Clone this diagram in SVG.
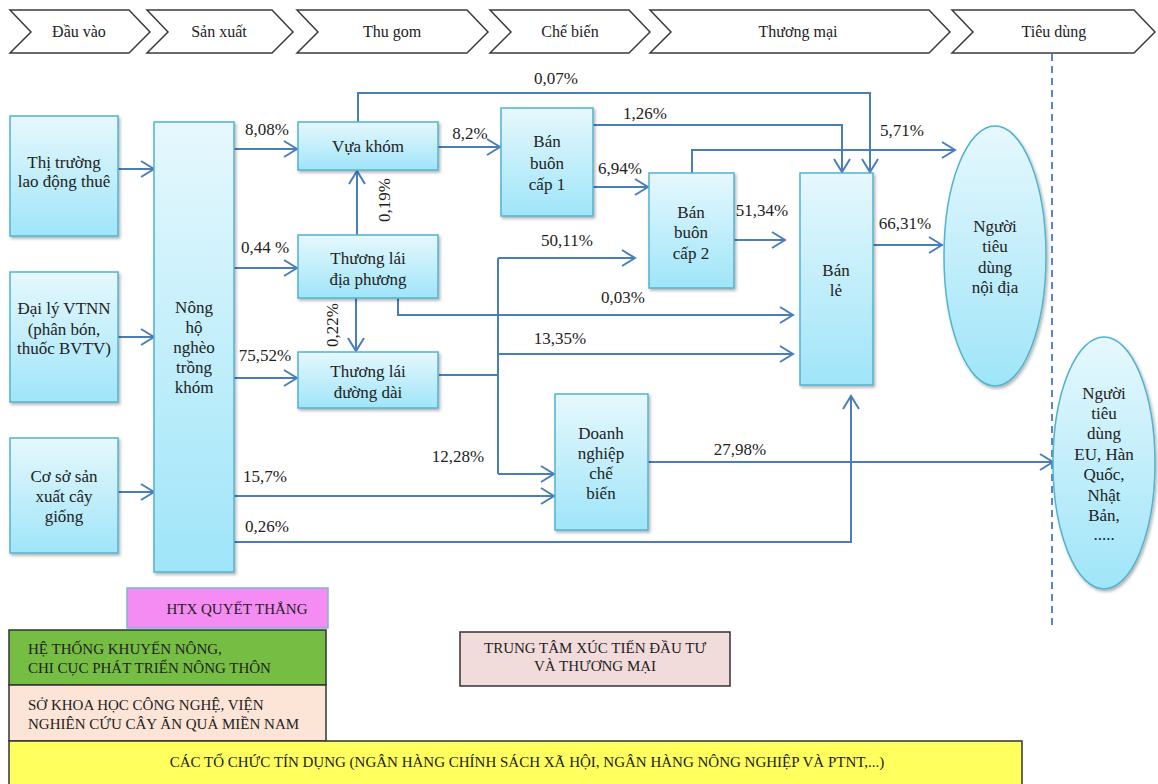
<svg xmlns="http://www.w3.org/2000/svg" width="1158" height="784" viewBox="0 0 1158 784" font-family="'Liberation Serif', 'Times New Roman', serif">
<style>
text{font-family:'Liberation Serif','Times New Roman',serif;fill:#222}
.hd{font-size:16px;text-anchor:middle}
.nt{font-size:17px;text-anchor:middle}
.lb{font-size:17px;text-anchor:middle}
.et{font-size:17px;text-anchor:middle}
.bt{font-size:15px}
.chev{fill:#fff;stroke:#3c3c3c;stroke-width:1.5}
.node{fill:url(#ng);stroke:#52b3cf;stroke-width:1.5;filter:url(#sh)}
.cn path{fill:none;stroke:#4a7ebb;stroke-width:2}
.arr{marker-end:url(#ah)}
</style>
<defs>
<linearGradient id="ng" x1="0" y1="0" x2="0" y2="1">
<stop offset="0" stop-color="#e6f8fd"/>
<stop offset="1" stop-color="#9fe5f9"/>
</linearGradient>
<filter id="sh" x="-10%" y="-10%" width="130%" height="130%">
<feDropShadow dx="1.5" dy="2" stdDeviation="1.5" flood-color="#000" flood-opacity="0.3"/>
</filter>
<marker id="ah" viewBox="0 0 16 18" refX="14" refY="9" markerWidth="16" markerHeight="18" markerUnits="userSpaceOnUse" orient="auto">
<path d="M1,1 L14,9 L1,17" fill="none" stroke="#4a7ebb" stroke-width="2"/>
</marker>
</defs>
<rect width="1158" height="784" fill="#fff"/>

<g id="header">
<polygon class="chev" points="10,10 129,10 150,32 129,53 10,53 31,32"/>
<text class="hd" x="79" y="37">Đầu vào</text>
<polygon class="chev" points="147,10 272,10 293,32 272,53 147,53 168,32"/>
<text class="hd" x="219" y="37">Sản xuất</text>
<polygon class="chev" points="297,10 467,10 488,32 467,53 297,53 318,32"/>
<text class="hd" x="392" y="37">Thu gom</text>
<polygon class="chev" points="490,10 629,10 650,32 629,53 490,53 511,32"/>
<text class="hd" x="570" y="37">Chế biến</text>
<polygon class="chev" points="650,10 929,10 950,32 929,53 650,53 671,32"/>
<text class="hd" x="798" y="37">Thương mại</text>
<polygon class="chev" points="952,10 1134,10 1155,32 1134,53 952,53 973,32"/>
<text class="hd" x="1054" y="37">Tiêu dùng</text>
</g>

<line x1="1052" y1="54" x2="1052" y2="628" stroke="#5b85c4" stroke-width="2" stroke-dasharray="7,5"/>

<g id="connectors" class="cn">
<path class="arr" d="M118,169 H154"/>
<path class="arr" d="M118,337 H154"/>
<path class="arr" d="M118,492 H154"/>
<path class="arr" d="M234,149 H297"/>
<path class="arr" d="M234,268 H297"/>
<path class="arr" d="M234,378 H297"/>
<path class="arr" d="M234,496 H554"/>
<path class="arr" d="M234,542 H851 V396"/>
<path class="arr" d="M357,235 V171"/>
<path class="arr" d="M356,298 V351"/>
<path class="arr" d="M438,147 H500"/>
<path class="arr" d="M358,122 V93 H870 V172"/>
<path class="arr" d="M593,125 H842 V172"/>
<path class="arr" d="M593,187 H648"/>
<path class="arr" d="M692,173 V150 H955"/>
<path class="arr" d="M734,240 H785"/>
<path class="arr" d="M873,245 H942"/>
<path d="M439,375 H498 M498,258 V474"/>
<path class="arr" d="M498,258 H635"/>
<path class="arr" d="M498,354 H793"/>
<path class="arr" d="M498,474 H554"/>
<path class="arr" d="M398,298 V315 H793"/>
<path class="arr" d="M648,462 H1053"/>
</g>

<g id="labels">
<text class="lb" x="267" y="135">8,08%</text>
<text class="lb" x="265" y="253">0,44 %</text>
<text class="lb" x="265" y="361">75,52%</text>
<text class="lb" x="265" y="482">15,7%</text>
<text class="lb" x="267" y="532">0,26%</text>
<text class="lb" transform="translate(384,200) rotate(-90)" dy="6">0,19%</text>
<text class="lb" transform="translate(332,325) rotate(-90)" dy="6">0,22%</text>
<text class="lb" x="470" y="139">8,2%</text>
<text class="lb" x="556" y="84">0,07%</text>
<text class="lb" x="645" y="119">1,26%</text>
<text class="lb" x="620" y="174">6,94%</text>
<text class="lb" x="902" y="136">5,71%</text>
<text class="lb" x="762" y="216">51,34%</text>
<text class="lb" x="905" y="229">66,31%</text>
<text class="lb" x="567" y="246">50,11%</text>
<text class="lb" x="560" y="344">13,35%</text>
<text class="lb" x="458" y="462">12,28%</text>
<text class="lb" x="623" y="303">0,03%</text>
<text class="lb" x="740" y="455">27,98%</text>
</g>

<g id="n-thitruong">
<rect class="node" x="10" y="116" width="108" height="120"/>
<text class="nt" x="64" y="168">Thị trường</text>
<text class="nt" x="64" y="187">lao động thuê</text>
</g>
<g id="n-daily">
<rect class="node" x="10" y="272" width="108" height="130"/>
<text class="nt" x="64" y="314">Đại lý VTNN</text>
<text class="nt" x="64" y="335">(phân bón,</text>
<text class="nt" x="64" y="354">thuốc BVTV)</text>
</g>
<g id="n-coso">
<rect class="node" x="10" y="438" width="108" height="115"/>
<text class="nt" x="64" y="482">Cơ sở sản</text>
<text class="nt" x="64" y="502">xuất cây</text>
<text class="nt" x="64" y="522">giống</text>
</g>
<g id="n-nongho">
<rect class="node" x="154" y="122" width="80" height="450"/>
<text class="nt" x="194" y="313">Nông</text>
<text class="nt" x="194" y="333">hộ</text>
<text class="nt" x="194" y="353">nghèo</text>
<text class="nt" x="194" y="373">trồng</text>
<text class="nt" x="194" y="393">khóm</text>
</g>
<g id="n-vua">
<rect class="node" x="298" y="122" width="140" height="48"/>
<text class="nt" x="368" y="152">Vựa khóm</text>
</g>
<g id="n-tldp">
<rect class="node" x="298" y="235" width="140" height="63"/>
<text class="nt" x="368" y="264">Thương lái</text>
<text class="nt" x="368" y="285">địa phương</text>
</g>
<g id="n-tldd">
<rect class="node" x="298" y="352" width="140" height="56"/>
<text class="nt" x="368" y="377">Thương lái</text>
<text class="nt" x="368" y="398">đường dài</text>
</g>
<g id="n-bb1">
<rect class="node" x="501" y="108" width="92" height="108"/>
<text class="nt" x="547" y="147">Bán</text>
<text class="nt" x="547" y="169">buôn</text>
<text class="nt" x="547" y="190">cấp 1</text>
</g>
<g id="n-bb2">
<rect class="node" x="649" y="173" width="85" height="115"/>
<text class="nt" x="691" y="218">Bán</text>
<text class="nt" x="691" y="238">buôn</text>
<text class="nt" x="691" y="259">cấp 2</text>
</g>
<g id="n-banle">
<rect class="node" x="800" y="173" width="73" height="212"/>
<text class="nt" x="836" y="276">Bán</text>
<text class="nt" x="836" y="296">lẻ</text>
</g>
<g id="n-dn">
<rect class="node" x="555" y="394" width="93" height="136"/>
<text class="nt" x="601" y="439">Doanh</text>
<text class="nt" x="601" y="459">nghiệp</text>
<text class="nt" x="601" y="479">chế</text>
<text class="nt" x="601" y="499">biến</text>
</g>
<g id="n-ntd-noidia">
<ellipse class="node" cx="995" cy="256" rx="51" ry="130"/>
<text class="et" x="995" y="232">Người</text>
<text class="et" x="995" y="252">tiêu</text>
<text class="et" x="995" y="273">dùng</text>
<text class="et" x="995" y="293">nội địa</text>
</g>
<g id="n-ntd-xk">
<ellipse class="node" cx="1104" cy="463" rx="51" ry="126"/>
<text class="et" x="1104" y="399">Người</text>
<text class="et" x="1104" y="419">tiêu</text>
<text class="et" x="1104" y="439">dùng</text>
<text class="et" x="1104" y="460">EU, Hàn</text>
<text class="et" x="1104" y="480">Quốc,</text>
<text class="et" x="1104" y="501">Nhật</text>
<text class="et" x="1104" y="521">Bản,</text>
<text class="et" x="1104" y="540">.....</text>
</g>

<g id="b-htx">
<rect x="127" y="588" width="201" height="40" fill="#f58cf3" stroke="#7fb5d5" stroke-width="1.5"/>
<text class="bt" x="237" y="614" text-anchor="middle">HTX QUYẾT THẮNG</text>
</g>
<g id="b-khuyennong">
<rect x="9" y="630" width="317" height="55" fill="#76bd43" stroke="#333" stroke-width="1.5"/>
<text class="bt" x="28" y="654">HỆ THỐNG KHUYẾN NÔNG,</text>
<text class="bt" x="28" y="673">CHI CỤC PHÁT TRIỂN NÔNG THÔN</text>
</g>
<g id="b-sokhoahoc">
<rect x="9" y="685" width="317" height="56" fill="#fce4d6" stroke="#333" stroke-width="1.5"/>
<text class="bt" x="28" y="710">SỞ KHOA HỌC CÔNG NGHỆ, VIỆN</text>
<text class="bt" x="28" y="729">NGHIÊN CỨU CÂY ĂN QUẢ MIỀN NAM</text>
</g>
<g id="b-trungtam">
<rect x="460" y="632" width="270" height="54" fill="#f2dcdb" stroke="#333" stroke-width="1.5"/>
<text class="bt" x="595" y="653" text-anchor="middle">TRUNG TÂM XÚC TIẾN ĐẦU TƯ</text>
<text class="bt" x="595" y="671" text-anchor="middle">VÀ THƯƠNG MẠI</text>
</g>
<g id="b-tindung">
<rect x="9" y="741" width="1013" height="50" fill="#ffff5e" stroke="#333" stroke-width="1.5"/>
<text class="bt" x="527" y="767" text-anchor="middle">CÁC TỔ CHỨC TÍN DỤNG (NGÂN HÀNG CHÍNH SÁCH XÃ HỘI, NGÂN HÀNG NÔNG NGHIỆP VÀ PTNT,...)</text>
</g>
</svg>
